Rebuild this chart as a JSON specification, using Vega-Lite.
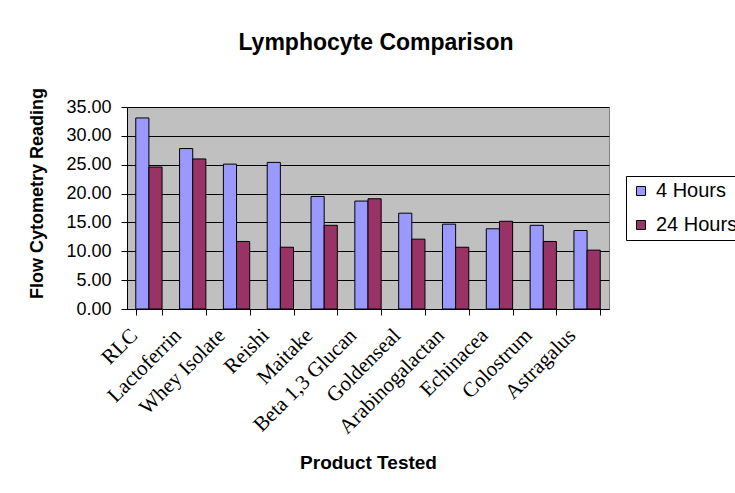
{
  "$schema": "https://vega.github.io/schema/vega-lite/v6.json",
  "autosize": {"type": "none"},
  "width": 482,
  "height": 202,
  "padding": {"left": 127, "top": 107, "right": 126, "bottom": 184},
  "background": "white",
  "title": {
    "text": "Lymphocyte Comparison",
    "font": "Liberation Sans",
    "fontSize": 23,
    "fontWeight": "bold",
    "color": "#000",
    "anchor": "middle",
    "frame": "group",
    "dx": 8,
    "offset": 32
  },
  "data": {
    "values": [
      {"product": "RLC", "series": "4 Hours", "value": 33.1},
      {"product": "RLC", "series": "24 Hours", "value": 24.6},
      {"product": "Lactoferrin", "series": "4 Hours", "value": 27.8},
      {"product": "Lactoferrin", "series": "24 Hours", "value": 26.0},
      {"product": "Whey Isolate", "series": "4 Hours", "value": 25.1},
      {"product": "Whey Isolate", "series": "24 Hours", "value": 11.7},
      {"product": "Reishi", "series": "4 Hours", "value": 25.4},
      {"product": "Reishi", "series": "24 Hours", "value": 10.7},
      {"product": "Maitake", "series": "4 Hours", "value": 19.5},
      {"product": "Maitake", "series": "24 Hours", "value": 14.5},
      {"product": "Beta 1,3 Glucan", "series": "4 Hours", "value": 18.7},
      {"product": "Beta 1,3 Glucan", "series": "24 Hours", "value": 19.1},
      {"product": "Goldenseal", "series": "4 Hours", "value": 16.6},
      {"product": "Goldenseal", "series": "24 Hours", "value": 12.1},
      {"product": "Arabinogalactan", "series": "4 Hours", "value": 14.7},
      {"product": "Arabinogalactan", "series": "24 Hours", "value": 10.7},
      {"product": "Echinacea", "series": "4 Hours", "value": 13.9},
      {"product": "Echinacea", "series": "24 Hours", "value": 15.2},
      {"product": "Colostrum", "series": "4 Hours", "value": 14.5},
      {"product": "Colostrum", "series": "24 Hours", "value": 11.7},
      {"product": "Astragalus", "series": "4 Hours", "value": 13.6},
      {"product": "Astragalus", "series": "24 Hours", "value": 10.2}
    ]
  },
  "mark": {"type": "bar", "stroke": "#000", "strokeWidth": 1},
  "encoding": {
    "x": {
      "field": "product",
      "type": "nominal",
      "sort": null,
      "scale": {"paddingInner": 0.4, "paddingOuter": 0.2},
      "axis": {
        "title": "Product Tested",
        "titleFont": "Liberation Sans",
        "titleFontSize": 19,
        "titleFontWeight": "bold",
        "titleColor": "#000",
        "titlePadding": 16,
        "labelFont": "Liberation Serif",
        "labelFontSize": 21,
        "labelColor": "#000",
        "labelAngle": -45,
        "labelAlign": "right",
        "labelBaseline": "middle",
        "labelPadding": 17,
        "labelOffset": -15,
        "tickBand": "extent",
        "tickColor": "#000",
        "tickSize": 6,
        "domainColor": "#000",
        "grid": false
      }
    },
    "xOffset": {"field": "series", "sort": ["4 Hours", "24 Hours"]},
    "y": {
      "field": "value",
      "type": "quantitative",
      "scale": {"domain": [0, 35], "nice": false},
      "axis": {
        "title": "Flow Cytometry Reading",
        "titleFont": "Liberation Sans",
        "titleFontSize": 18,
        "titleFontWeight": "bold",
        "titleColor": "#000",
        "titlePadding": 19,
        "titleY": 86,
        "values": [0, 5, 10, 15, 20, 25, 30, 35],
        "format": ".2f",
        "labelFont": "Liberation Sans",
        "labelFontSize": 18,
        "labelColor": "#000",
        "labelPadding": 10,
        "tickColor": "#000",
        "tickSize": 6,
        "domainColor": "#000",
        "grid": true,
        "gridColor": "#000",
        "gridOpacity": 1
      }
    },
    "color": {
      "field": "series",
      "type": "nominal",
      "scale": {"domain": ["4 Hours", "24 Hours"], "range": ["#9999FF", "#993366"]},
      "legend": {
        "title": null,
        "orient": "none",
        "legendX": 499,
        "legendY": 69,
        "strokeColor": "#000",
        "fillColor": "white",
        "padding": 5,
        "rowPadding": 14,
        "symbolType": "square",
        "symbolSize": 81,
        "symbolStrokeColor": "#000",
        "symbolStrokeWidth": 1,
        "labelFont": "Liberation Sans",
        "labelFontSize": 20,
        "labelColor": "#000",
        "labelOffset": 5
      }
    }
  },
  "config": {
    "view": {"fill": "#C0C0C0", "stroke": "#808080"},
    "axis": {"domainWidth": 1, "tickWidth": 1}
  }
}
